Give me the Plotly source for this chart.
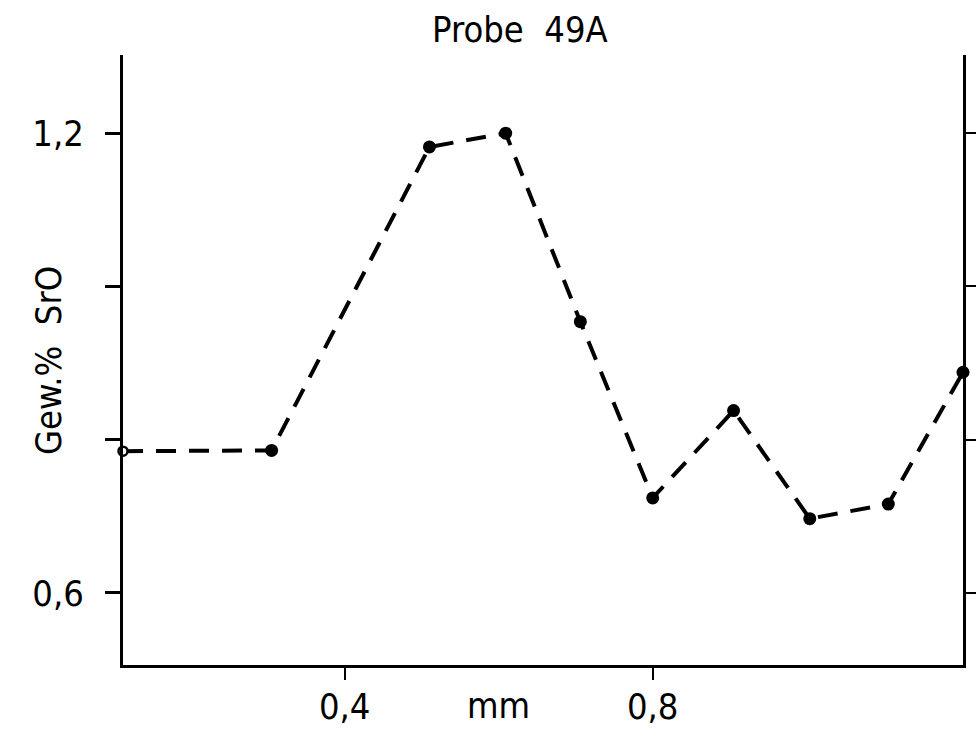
import plotly.graph_objects as go

# Data (distance in mm, Gew.% SrO)
x_mm = [0.112, 0.305, 0.51, 0.609, 0.706, 0.80, 0.905, 1.004, 1.106, 1.203]
sro = [0.785, 0.786, 1.182, 1.200, 0.954, 0.724, 0.838, 0.697, 0.716, 0.888]

y_tickvals = [0.6, 0.8, 1.0, 1.2]
y_ticktext = ["0,6", "", "", "1,2"]
x_tickvals = [0.4, 0.8]
x_ticktext = ["0,4", "0,8"]

FONT = "DejaVu Sans Condensed, DejaVu Sans, sans-serif"
FS = 36
X_RANGE = [0.112, 1.203]
Y_RANGE = [0.506, 1.302]

fig = go.Figure()

# dashed line through all points
fig.add_trace(go.Scatter(
    x=x_mm, y=sro, mode="lines",
    line=dict(color="black", width=4, dash="20px,13px"),
    showlegend=False, hoverinfo="skip", cliponaxis=False,
))
# first point: open circle
fig.add_trace(go.Scatter(
    x=x_mm[:1], y=sro[:1], mode="markers",
    marker=dict(size=9, color="white", line=dict(color="black", width=2.5)),
    showlegend=False, cliponaxis=False,
))
# remaining points: filled circles
fig.add_trace(go.Scatter(
    x=x_mm[1:], y=sro[1:], mode="markers",
    marker=dict(size=13, color="black"),
    showlegend=False, cliponaxis=False,
))
# invisible trace to activate right axis
fig.add_trace(go.Scatter(
    x=x_mm[:1], y=sro[:1], yaxis="y2", mode="markers",
    marker=dict(size=1, color="rgba(0,0,0,0)"),
    showlegend=False, hoverinfo="skip",
))

fig.update_layout(
    width=976, height=738,
    margin=dict(l=123, r=13, t=55, b=73),
    paper_bgcolor="white", plot_bgcolor="white",
    font=dict(family=FONT, color="black", size=FS),
    xaxis=dict(
        range=X_RANGE, showgrid=False, zeroline=False, automargin=False,
        showline=True, linecolor="black", linewidth=3,
        ticks="outside", ticklen=12, tickwidth=2, tickcolor="black",
        tickvals=x_tickvals, ticktext=x_ticktext,
        tickfont=dict(size=FS, family=FONT),
        ticklabelstandoff=-4,
    ),
    yaxis=dict(
        range=Y_RANGE, showgrid=False, zeroline=False, automargin=False,
        showline=True, linecolor="black", linewidth=3,
        ticks="outside", ticklen=15, tickwidth=3, tickcolor="black",
        tickvals=y_tickvals, ticktext=y_ticktext,
        tickfont=dict(size=FS, family=FONT),
        ticklabelstandoff=14,
    ),
    yaxis2=dict(
        range=Y_RANGE, overlaying="y", side="right", automargin=False,
        showgrid=False, zeroline=False,
        showline=True, linecolor="black", linewidth=3,
        ticks="outside", ticklen=12, tickwidth=2, tickcolor="black",
        tickvals=y_tickvals, showticklabels=False,
    ),
    annotations=[
        dict(text="Probe\u00a0\u00a049A", xref="paper", yref="paper",
             x=0.4726, y=1.041, xanchor="center", yanchor="middle",
             showarrow=False, font=dict(size=FS, family=FONT)),
        dict(text="mm", xref="x", yref="paper",
             x=0.6, y=-0.066, xanchor="center", yanchor="middle",
             showarrow=False, font=dict(size=FS, family=FONT)),
        dict(text="Gew.%\u00a0\u00a0SrO", xref="paper", yref="paper",
             x=-0.0893, y=0.5, xanchor="center", yanchor="middle",
             textangle=-90, showarrow=False, font=dict(size=FS, family=FONT)),
    ],
)

fig.write_html(
    "out.html",
    config={"displayModeBar": False},
    post_script="document.body.style.margin='0';document.body.style.overflow='hidden';",
)
